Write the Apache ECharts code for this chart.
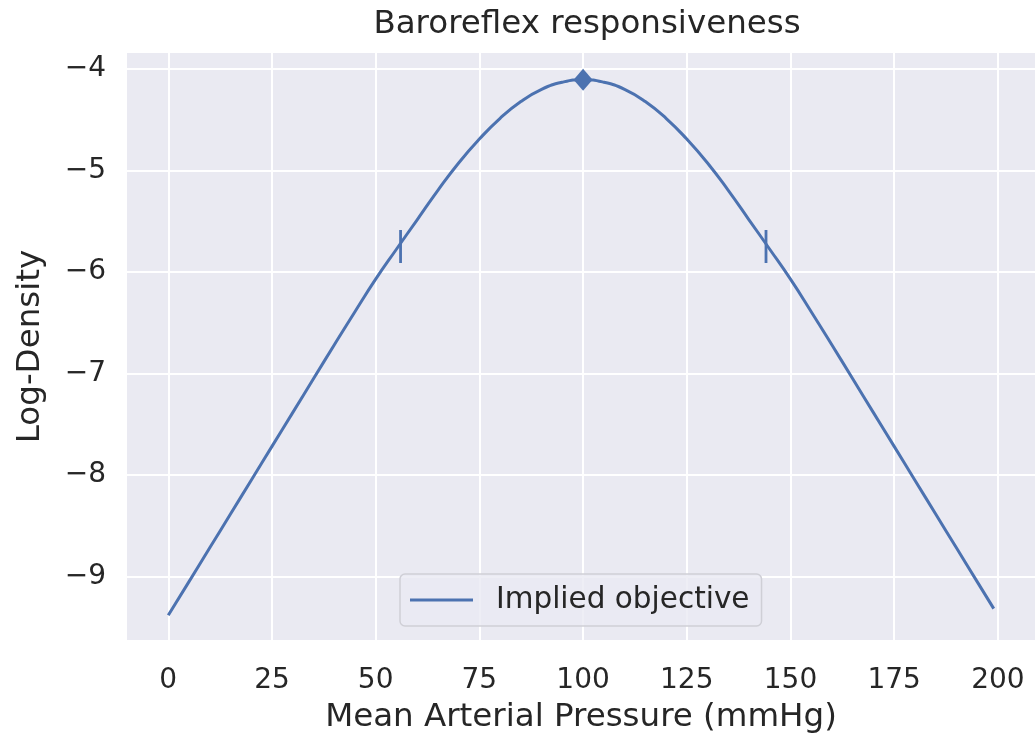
<!DOCTYPE html>
<html>
<head>
<meta charset="utf-8">
<script src="https://cdn.jsdelivr.net/npm/echarts@6/dist/echarts.min.js"></script>
<style>
  html, body { margin: 0; padding: 0; background: #fff; }
  #chart { width: 1035px; height: 743px; }
</style>
</head>
<body>
<div id="chart"></div>
<script>
// pressure values (mmHg) and the log-density
const pressure = [0, 5, 10, 15, 20, 25, 30, 35, 40, 45, 50, 55, 60, 65, 70, 75, 80, 85, 90, 95,
  100, 105, 110, 115, 120, 125, 130, 135, 140, 145, 150, 155, 160, 165, 170, 175, 180, 185, 190, 195, 199]
const logDensity = [-9.38, -9.049, -8.716, -8.383, -8.05, -7.717, -7.384, -7.051, -6.718, -6.39,
  -6.07, -5.775, -5.485, -5.195, -4.925, -4.69, -4.485, -4.32, -4.20, -4.13,
  -4.105, -4.13, -4.20, -4.32, -4.485, -4.69, -4.925, -5.195, -5.485, -5.775,
  -6.07, -6.39, -6.718, -7.051, -7.384, -7.717, -8.05, -8.383, -8.716, -9.049, -9.315]
const peak = [[100, -4.105]]
const bounds = [[56, -5.748], [144.1, -5.748]]
const xTicks = [0, 25, 50, 75, 100, 125, 150, 175, 200]
const yTicks = [-9, -8, -7, -6, -5, -4]

const blue = '#4C72B0'
const ink = '#262626'
const font = 'DejaVu Sans'

let curve = []
for (let i = 0; i < pressure.length; i++) {
  curve.push([pressure[i], logDensity[i]])
}

const myChart = echarts.init(document.getElementById('chart'))

myChart.setOption({
  animation: false,
  backgroundColor: '#ffffff',
  title: {
    text: 'Baroreflex responsiveness',
    left: 582, top: 3, textAlign: 'center',
    textStyle: { fontFamily: font, fontSize: 32.5, fontWeight: 'normal', color: ink }
  },
  grid: { left: 127, right: 0, top: 53, bottom: 103, show: true, backgroundColor: '#EAEAF2', borderWidth: 0 },
  legend: {
    data: ['Implied objective'],
    left: 400, top: 574,
    icon: 'rect', itemWidth: 63, itemHeight: 3,
    padding: [11, 12, 11, 10],
    backgroundColor: 'rgba(234,234,242,0.8)',
    borderColor: '#cfcfd6', borderWidth: 1.5, borderRadius: 5,
    textStyle: { fontFamily: font, fontSize: 29.5, color: ink, padding: [0, 0, 0, 18] }
  },
  xAxis: {
    type: 'value', min: -9.95, max: 208.95,
    name: 'Mean Arterial Pressure (mmHg)', nameLocation: 'middle', nameGap: 61,
    nameTextStyle: { fontFamily: font, fontSize: 32.5, color: ink },
    axisLine: { show: false },
    axisTick: { show: false, customValues: xTicks },
    axisLabel: { customValues: xTicks, fontFamily: font, fontSize: 28, color: ink, margin: 27 },
    splitLine: { show: true, lineStyle: { color: '#ffffff', width: 2 } }
  },
  yAxis: {
    type: 'value', min: -9.624, max: -3.842,
    name: 'Log-Density', nameLocation: 'middle', nameGap: 80,
    nameTextStyle: { fontFamily: font, fontSize: 32.5, color: ink },
    axisLine: { show: false },
    axisTick: { show: false, customValues: yTicks },
    axisLabel: {
      customValues: yTicks, fontFamily: font, fontSize: 28, color: ink, margin: 21,
      formatter: v => String(v).replace('-', '\u2212')
    },
    splitLine: { show: true, lineStyle: { color: '#ffffff', width: 2 } }
  },
  series: [
    {
      name: 'Implied objective', type: 'line', data: curve,
      smooth: 0.5, showSymbol: false, symbol: 'none',
      lineStyle: { color: blue, width: 3 }, itemStyle: { color: blue }, z: 3
    },
    {
      name: 'peak', type: 'scatter', data: peak,
      symbol: 'diamond', symbolSize: [19, 22], itemStyle: { color: blue, opacity: 1 }, z: 4
    },
    {
      name: 'bounds', type: 'scatter', data: bounds,
      symbol: 'rect', symbolSize: [2.8, 33], itemStyle: { color: blue, opacity: 1 }, z: 4
    }
  ]
})
</script>
</body>
</html>
